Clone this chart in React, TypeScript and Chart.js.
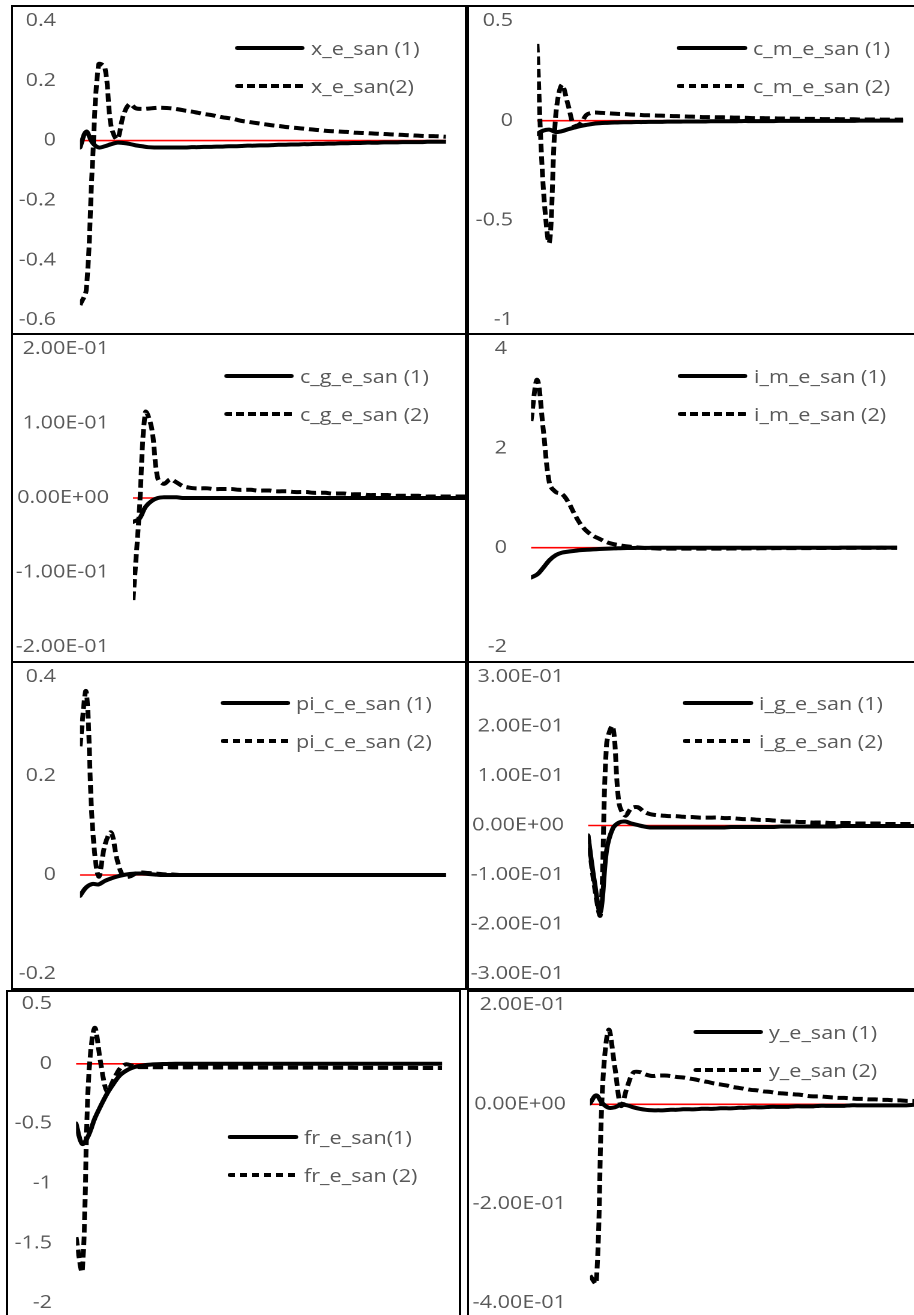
import React, { useEffect, useRef } from "react";
import { Chart, registerables } from "chart.js";
Chart.register(...registerables);

// ---------------- data ----------------
const PERIODS = [
  1, 2, 3, 4, 5, 6, 7, 8, 9, 10, 11, 12, 13, 14, 15, 16, 17, 18, 19, 20,
  21, 22, 23, 24, 25, 26, 27, 28, 29, 30, 31, 32, 33, 34, 35, 36, 37, 38, 39, 40,
  41, 42, 43, 44, 45, 46, 47, 48, 49, 50, 51, 52, 53, 54, 55, 56, 57, 58, 59, 60,
];
const ZERO_LEVEL = 0;

const X_NAMES = ["x_e_san (1)", "x_e_san(2)"];
const X_E_SAN_1 = [
  -0.023, 0.03, -0.007, -0.023, -0.019, -0.012, -0.007, -0.008, -0.011, -0.016,
  -0.019, -0.022, -0.023, -0.023, -0.023, -0.023, -0.023, -0.023, -0.022, -0.022,
  -0.021, -0.021, -0.02, -0.02, -0.019, -0.019, -0.018, -0.017, -0.017, -0.016,
  -0.016, -0.015, -0.014, -0.014, -0.013, -0.013, -0.012, -0.012, -0.011, -0.011,
  -0.01, -0.01, -0.009, -0.009, -0.008, -0.008, -0.007, -0.007, -0.007, -0.006,
  -0.006, -0.006, -0.005, -0.005, -0.005, -0.005, -0.004, -0.004, -0.004, -0.004,
];
const X_E_SAN_2 = [
  -0.55, -0.5, -0.08, 0.255, 0.245, 0.05, 0.005, 0.085, 0.122, 0.108,
  0.106, 0.107, 0.109, 0.11, 0.109, 0.107, 0.104, 0.1, 0.097, 0.093,
  0.089, 0.086, 0.082, 0.078, 0.075, 0.071, 0.066, 0.063, 0.06, 0.057,
  0.054, 0.051, 0.049, 0.046, 0.044, 0.042, 0.04, 0.038, 0.036, 0.034,
  0.032, 0.031, 0.03, 0.029, 0.027, 0.026, 0.025, 0.024, 0.023, 0.022,
  0.021, 0.02, 0.019, 0.018, 0.017, 0.016, 0.015, 0.015, 0.014, 0.013,
];

const CM_NAMES = ["c_m_e_san (1)", "c_m_e_san (2)"];
const C_M_E_SAN_1 = [
  -0.067, -0.05, -0.045, -0.057, -0.053, -0.043, -0.035, -0.027, -0.021, -0.016,
  -0.013, -0.011, -0.01, -0.009, -0.008, -0.008, -0.007, -0.007, -0.006, -0.006,
  -0.006, -0.005, -0.005, -0.005, -0.004, -0.004, -0.004, -0.004, -0.003, -0.003,
  -0.003, -0.003, -0.003, -0.002, -0.002, -0.002, -0.002, -0.002, -0.002, -0.001,
  -0.001, -0.001, -0.001, -0.001, -0.001, -0.001, -0.001, -0.001, -0.001, -0.001,
  -0.001, -0.001, 0, 0, 0, 0, 0, 0, 0, 0,
];
const C_M_E_SAN_2 = [
  0.385, -0.33, -0.61, 0.02, 0.18, 0.08, -0.025, -0.015, 0.03, 0.04,
  0.04, 0.038, 0.036, 0.034, 0.033, 0.031, 0.03, 0.028, 0.027, 0.026,
  0.025, 0.024, 0.023, 0.022, 0.021, 0.02, 0.019, 0.018, 0.018, 0.017,
  0.017, 0.016, 0.015, 0.015, 0.014, 0.013, 0.013, 0.012, 0.012, 0.011,
  0.011, 0.01, 0.01, 0.009, 0.009, 0.009, 0.008, 0.008, 0.008, 0.007,
  0.007, 0.007, 0.006, 0.006, 0.006, 0.006, 0.005, 0.005, 0.005, 0.005,
];

const CG_NAMES = ["c_g_e_san (1)", "c_g_e_san (2)"];
const C_G_E_SAN_1 = [
  -0.032, -0.028, -0.012, -0.004, 0, 0.001, 0.001, 0.001, 0, 0,
  0, 0, 0, 0, 0, 0, 0, 0, 0, 0,
  0, 0, 0, 0, 0, 0, 0, 0, 0, 0,
  0, 0, 0, 0, 0, 0, 0, 0, 0, 0,
  0, 0, 0, 0, 0, 0, 0, 0, 0, 0,
  0, 0, 0, 0, 0, 0, 0, 0, 0, 0,
];
const C_G_E_SAN_2 = [
  -0.137, -0.02, 0.115, 0.094, 0.026, 0.019, 0.025, 0.021, 0.016, 0.014,
  0.013, 0.013, 0.013, 0.012, 0.012, 0.012, 0.012, 0.011, 0.011, 0.011,
  0.01, 0.01, 0.01, 0.009, 0.009, 0.009, 0.008, 0.008, 0.008, 0.007,
  0.007, 0.007, 0.006, 0.006, 0.006, 0.005, 0.005, 0.005, 0.004, 0.004,
  0.004, 0.004, 0.003, 0.003, 0.003, 0.003, 0.003, 0.002, 0.002, 0.002,
  0.002, 0.002, 0.002, 0.002, 0.002, 0.001, 0.001, 0.001, 0.001, 0.001,
];

const IM_NAMES = ["i_m_e_san (1)", "i_m_e_san (2)"];
const I_M_E_SAN_1 = [
  -0.6, -0.54, -0.4, -0.25, -0.15, -0.1, -0.08, -0.065, -0.05, -0.042,
  -0.035, -0.028, -0.022, -0.017, -0.012, -0.009, -0.007, -0.005, -0.004, -0.003,
  -0.002, -0.002, -0.002, -0.002, -0.002, -0.002, -0.002, -0.002, -0.002, -0.002,
  -0.002, -0.002, -0.001, -0.001, -0.001, -0.001, -0.001, -0.001, -0.001, -0.001,
  -0.001, -0.001, -0.001, -0.001, -0.001, -0.001, -0.001, -0.001, -0.001, -0.001,
  0, 0, 0, 0, 0, 0, 0, 0, 0, 0,
];
const I_M_E_SAN_2 = [
  2.55, 3.38, 2.35, 1.28, 1.12, 1.08, 0.92, 0.68, 0.47, 0.33,
  0.24, 0.18, 0.12, 0.08, 0.055, 0.035, 0.02, 0.005, -0.005, -0.01,
  -0.015, -0.02, -0.02, -0.02, -0.02, -0.02, -0.02, -0.02, -0.02, -0.02,
  -0.02, -0.019, -0.018, -0.017, -0.016, -0.015, -0.014, -0.013, -0.012, -0.011,
  -0.01, -0.01, -0.009, -0.009, -0.008, -0.008, -0.007, -0.007, -0.006, -0.006,
  -0.005, -0.005, -0.005, -0.004, -0.004, -0.004, -0.003, -0.003, -0.003, -0.003,
];

const PIC_NAMES = ["pi_c_e_san (1)", "pi_c_e_san (2)"];
const PI_C_E_SAN_1 = [
  -0.042, -0.025, -0.018, -0.019, -0.012, -0.007, -0.003, 0, 0.002, 0.003,
  0.003, 0.002, 0.001, 0, 0, 0, 0, 0, 0, 0,
  0, 0, 0, 0, 0, 0, 0, 0, 0, 0,
  0, 0, 0, 0, 0, 0, 0, 0, 0, 0,
  0, 0, 0, 0, 0, 0, 0, 0, 0, 0,
  0, 0, 0, 0, 0, 0, 0, 0, 0, 0,
];
const PI_C_E_SAN_2 = [
  0.26, 0.37, 0.1, -0.003, 0.06, 0.086, 0.03, -0.003, -0.003, 0.003,
  0.005, 0.004, 0.003, 0.002, 0.001, 0.001, 0, 0, 0, 0,
  0, 0, 0, 0, 0, 0, 0, 0, 0, 0,
  0, 0, 0, 0, 0, 0, 0, 0, 0, 0,
  0, 0, 0, 0, 0, 0, 0, 0, 0, 0,
  0, 0, 0, 0, 0, 0, 0, 0, 0, 0,
];

const IG_NAMES = ["i_g_e_san (1)", "i_g_e_san (2)"];
const I_G_E_SAN_1 = [
  -0.02, -0.11, -0.175, -0.05, -0.006, 0.006, 0.008, 0.004, 0.001, -0.002,
  -0.004, -0.004, -0.004, -0.004, -0.004, -0.004, -0.004, -0.004, -0.004, -0.004,
  -0.004, -0.004, -0.004, -0.003, -0.003, -0.003, -0.003, -0.003, -0.003, -0.003,
  -0.003, -0.002, -0.002, -0.002, -0.002, -0.002, -0.002, -0.002, -0.002, -0.002,
  -0.002, -0.001, -0.001, -0.001, -0.001, -0.001, -0.001, -0.001, -0.001, -0.001,
  -0.001, -0.001, -0.001, -0.001, -0.001, -0.001, -0.001, -0.001, -0.001, -0.001,
];
const I_G_E_SAN_2 = [
  -0.02, -0.12, -0.18, 0.165, 0.2, 0.045, 0.02, 0.035, 0.037, 0.028,
  0.023, 0.021, 0.02, 0.019, 0.019, 0.018, 0.017, 0.017, 0.016, 0.016,
  0.016, 0.016, 0.015, 0.015, 0.014, 0.013, 0.013, 0.012, 0.011, 0.011,
  0.01, 0.009, 0.008, 0.008, 0.007, 0.007, 0.006, 0.006, 0.006, 0.005,
  0.005, 0.005, 0.005, 0.004, 0.004, 0.004, 0.004, 0.004, 0.003, 0.003,
  0.003, 0.003, 0.003, 0.003, 0.002, 0.002, 0.002, 0.002, 0.002, 0.002,
];

const FR_NAMES = ["fr_e_san(1)", "fr_e_san (2)"];
const FR_E_SAN_1 = [
  -0.5, -0.67, -0.6, -0.46, -0.35, -0.25, -0.17, -0.1, -0.06, -0.035,
  -0.02, -0.012, -0.007, -0.004, -0.002, -0.001, 0, 0, 0, 0,
  0, 0, 0, 0, 0, 0, 0, 0, 0, 0,
  0, 0, 0, 0, 0, 0, 0, 0, 0, 0,
  0, 0, 0, 0, 0, 0, 0, 0, 0, 0,
  0, 0, 0, 0, 0, 0, 0, 0, 0, 0,
];
const FR_E_SAN_2 = [
  -1.45, -1.73, -0.15, 0.3, 0.0, -0.23, -0.14, -0.045, -0.005, -0.015,
  -0.027, -0.028, -0.028, -0.029, -0.029, -0.029, -0.03, -0.03, -0.03, -0.03,
  -0.031, -0.031, -0.031, -0.031, -0.031, -0.031, -0.031, -0.031, -0.031, -0.031,
  -0.032, -0.032, -0.032, -0.032, -0.032, -0.032, -0.032, -0.032, -0.032, -0.032,
  -0.033, -0.033, -0.033, -0.033, -0.033, -0.034, -0.034, -0.034, -0.034, -0.034,
  -0.034, -0.034, -0.034, -0.034, -0.034, -0.035, -0.035, -0.035, -0.035, -0.035,
];

const Y_NAMES = ["y_e_san (1)", "y_e_san (2)"];
const Y_E_SAN_1 = [
  0.002, 0.018, 0.002, -0.007, -0.006, -0.001, -0.002, -0.006, -0.009, -0.011,
  -0.012, -0.012, -0.012, -0.011, -0.011, -0.01, -0.01, -0.01, -0.009, -0.009,
  -0.009, -0.008, -0.008, -0.008, -0.007, -0.007, -0.006, -0.006, -0.006, -0.005,
  -0.005, -0.005, -0.005, -0.004, -0.004, -0.004, -0.004, -0.003, -0.003, -0.003,
  -0.003, -0.003, -0.002, -0.002, -0.002, -0.002, -0.002, -0.002, -0.002, -0.002,
  -0.002, -0.002, -0.001, -0.001, -0.001, -0.001, -0.001, -0.001, -0.001, -0.001,
];
const Y_E_SAN_2 = [
  -0.345, -0.36, 0.03, 0.15, 0.075, -0.003, 0.035, 0.064, 0.065, 0.06,
  0.057, 0.058, 0.058, 0.057, 0.055, 0.054, 0.052, 0.05, 0.047, 0.045,
  0.042, 0.04, 0.038, 0.035, 0.033, 0.031, 0.029, 0.028, 0.026, 0.025,
  0.023, 0.022, 0.021, 0.02, 0.019, 0.017, 0.016, 0.016, 0.015, 0.014,
  0.013, 0.013, 0.012, 0.011, 0.011, 0.01, 0.01, 0.009, 0.009, 0.008,
  0.008, 0.007, 0.007, 0.006, 0.006, 0.006, 0.005, 0.005, 0.005, 0.004,
];

// tick values & labels
const X_TICKS = [-0.6, -0.4, -0.2, 0, 0.2, 0.4];
const X_TICK_LABELS = ["-0.6", "-0.4", "-0.2", "0", "0.2", "0.4"];
const CM_TICKS = [-1, -0.5, 0, 0.5];
const CM_TICK_LABELS = ["-1", "-0.5", "0", "0.5"];
const CG_TICKS = [-0.2, -0.1, 0, 0.1, 0.2];
const CG_TICK_LABELS = ["-2.00E-01", "-1.00E-01", "0.00E+00", "1.00E-01", "2.00E-01"];
const IM_TICKS = [-2, 0, 2, 4];
const IM_TICK_LABELS = ["-2", "0", "2", "4"];
const PIC_TICKS = [-0.2, 0, 0.2, 0.4];
const PIC_TICK_LABELS = ["-0.2", "0", "0.2", "0.4"];
const IG_TICKS = [-0.3, -0.2, -0.1, 0, 0.1, 0.2, 0.3];
const IG_TICK_LABELS = ["-3.00E-01", "-2.00E-01", "-1.00E-01", "0.00E+00", "1.00E-01", "2.00E-01", "3.00E-01"];
const FR_TICKS = [-2, -1.5, -1, -0.5, 0, 0.5];
const FR_TICK_LABELS = ["-2", "-1.5", "-1", "-0.5", "0", "0.5"];
const Y_TICKS = [-0.4, -0.2, 0, 0.2];
const Y_TICK_LABELS = ["-4.00E-01", "-2.00E-01", "0.00E+00", "2.00E-01"];

// ---------------- layout / style ----------------
const S = 1.2; // horizontal stretch of the original figure
const DATA_W = 366;
const BW = 2;
const VPAD = 44; // vertical room above/below the extreme ticks inside the canvas
const FONT = '"Open Sans", "DejaVu Sans", sans-serif';
const GREY = "#595959";

type Cfg = {
  box: number[];
  dataStart: number;
  yTop: number;
  yBot: number;
  ticks: number[];
  labels: string[];
  s1: number[];
  s2: number[];
  names: string[];
  legend: number[];
};

const PANELS: Cfg[] = [
  { box: [11, 5, 456, 330], dataStart: 80, yTop: 21, yBot: 320, ticks: X_TICKS, labels: X_TICK_LABELS, s1: X_E_SAN_1, s2: X_E_SAN_2, names: X_NAMES, legend: [235, 48] },
  { box: [467, 5, 460, 330], dataStart: 537, yTop: 21, yBot: 320, ticks: CM_TICKS, labels: CM_TICK_LABELS, s1: C_M_E_SAN_1, s2: C_M_E_SAN_2, names: CM_NAMES, legend: [677, 48] },
  { box: [11, 333, 456, 330], dataStart: 133, yTop: 349, yBot: 647, ticks: CG_TICKS, labels: CG_TICK_LABELS, s1: C_G_E_SAN_1, s2: C_G_E_SAN_2, names: CG_NAMES, legend: [224, 376] },
  { box: [467, 333, 460, 330], dataStart: 531, yTop: 349, yBot: 647, ticks: IM_TICKS, labels: IM_TICK_LABELS, s1: I_M_E_SAN_1, s2: I_M_E_SAN_2, names: IM_NAMES, legend: [678, 376] },
  { box: [11, 661, 456, 329], dataStart: 80, yTop: 677, yBot: 974, ticks: PIC_TICKS, labels: PIC_TICK_LABELS, s1: PI_C_E_SAN_1, s2: PI_C_E_SAN_2, names: PIC_NAMES, legend: [220, 703] },
  { box: [467, 661, 460, 329], dataStart: 588, yTop: 677, yBot: 974, ticks: IG_TICKS, labels: IG_TICK_LABELS, s1: I_G_E_SAN_1, s2: I_G_E_SAN_2, names: IG_NAMES, legend: [683, 703] },
  { box: [6, 990, 455, 332], dataStart: 76, yTop: 1004, yBot: 1303, ticks: FR_TICKS, labels: FR_TICK_LABELS, s1: FR_E_SAN_1, s2: FR_E_SAN_2, names: FR_NAMES, legend: [228, 1137] },
  { box: [467, 990, 460, 332], dataStart: 590, yTop: 1005, yBot: 1303, ticks: Y_TICKS, labels: Y_TICK_LABELS, s1: Y_E_SAN_1, s2: Y_E_SAN_2, names: Y_NAMES, legend: [693, 1032] },
];

function Panel({ cfg }: { cfg: Cfg }) {
  const ref = useRef<HTMLCanvasElement | null>(null);
  const [bl, bt, bw, bh] = cfg.box;
  const il = bl + BW;
  const it = bt + BW;
  const iw = bw - 2 * BW;
  const ih = bh - 2 * BW;
  const leftW = (cfg.dataStart - il) / S;
  const plotW = DATA_W / S;
  const W = Math.ceil(leftW + plotW + 12);
  const canvasTop = cfg.yTop - VPAD; // absolute
  const H = Math.round(cfg.yBot + VPAD - canvasTop);

  useEffect(() => {
    if (!ref.current) return;
    const toPts = (arr: number[]) => arr.map((v, i) => ({ x: PERIODS[i], y: v }));
    const chart = new Chart(ref.current, {
      type: "line",
      data: {
        datasets: [
          {
            label: cfg.names[0],
            data: toPts(cfg.s1),
            borderColor: "#000",
            borderWidth: 4,
            pointRadius: 0,
            tension: 0.35,
            borderCapStyle: "round",
            borderJoinStyle: "round",
            fill: false,
          },
          {
            label: cfg.names[1],
            data: toPts(cfg.s2),
            borderColor: "#000",
            borderWidth: 4,
            borderDash: [8.5, 4],
            pointRadius: 0,
            tension: 0.35,
            fill: false,
          },
          {
            label: "zero",
            data: [
              { x: PERIODS[0], y: ZERO_LEVEL },
              { x: PERIODS[PERIODS.length - 1], y: ZERO_LEVEL },
            ],
            borderColor: "#ff0000",
            borderWidth: 1.6,
            pointRadius: 0,
            tension: 0,
            fill: false,
          },
        ],
      },
      options: {
        animation: false,
        responsive: false,
        maintainAspectRatio: false,
        devicePixelRatio: 2,
        events: [],
        layout: {
          padding: {
            left: 0,
            right: W - leftW - plotW,
            top: VPAD,
            bottom: H - (cfg.yBot - canvasTop),
          },
        },
        plugins: { legend: { display: false }, tooltip: { enabled: false } },
        scales: {
          x: {
            type: "linear",
            display: false,
            min: PERIODS[0],
            max: PERIODS[PERIODS.length - 1],
          },
          y: {
            type: "linear",
            min: cfg.ticks[0],
            max: cfg.ticks[cfg.ticks.length - 1],
            grid: { display: false, drawTicks: false },
            border: { display: false },
            ticks: {
              padding: 20,
              color: GREY,
              autoSkip: false,
              font: { family: FONT, size: 18 },
              callback: (_v: any, i: number) => cfg.labels[i],
            },
            afterBuildTicks: (scale: any) => {
              scale.ticks = cfg.ticks.map((v) => ({ value: v }));
            },
            afterFit: (scale: any) => {
              scale.width = leftW;
            },
          },
        },
      },
    } as any);
    return () => chart.destroy();
  }, []);

  return (
    <>
      <div style={{ position: "absolute", left: il, top: it, width: iw, height: ih, overflow: "hidden" }}>
        <div
          style={{
            position: "absolute",
            left: 0,
            top: 0,
            width: W,
            height: ih,
            transform: `scaleX(${S})`,
            transformOrigin: "0 0",
          }}
        >
          <canvas
            ref={ref}
            width={W}
            height={H}
            style={{ position: "absolute", left: 0, top: canvasTop - it, width: W, height: H, display: "block" }}
          />
          {cfg.names.map((n, k) => (
            <div
              key={k}
              style={{
                position: "absolute",
                left: (cfg.legend[0] - il) / S,
                top: cfg.legend[1] + k * 38 - it - 12,
                height: 24,
                display: "flex",
                alignItems: "center",
                whiteSpace: "nowrap",
              }}
            >
              <div
                style={{
                  width: 70 / S,
                  height: 4,
                  borderRadius: 2,
                  background:
                    k === 0
                      ? "#000"
                      : "repeating-linear-gradient(to right, #000 0px, #000 6.5px, transparent 6.5px, transparent 10px)",
                }}
              />
              <span style={{ marginLeft: 6 / S, fontFamily: FONT, fontSize: 18, color: GREY, lineHeight: "24px" }}>{n}</span>
            </div>
          ))}
        </div>
      </div>
      <div
        style={{
          position: "absolute",
          left: bl,
          top: bt,
          width: bw,
          height: bh,
          border: `${BW}px solid #000`,
          boxSizing: "border-box",
          pointerEvents: "none",
        }}
      />
    </>
  );
}

export default function App() {
  return (
    <div
      style={{
        position: "absolute",
        left: 0,
        top: 0,
        width: 914,
        height: 1315,
        overflow: "hidden",
        background: "#fff",
      }}
    >
      {PANELS.map((c, i) => (
        <Panel key={i} cfg={c} />
      ))}
    </div>
  );
}
